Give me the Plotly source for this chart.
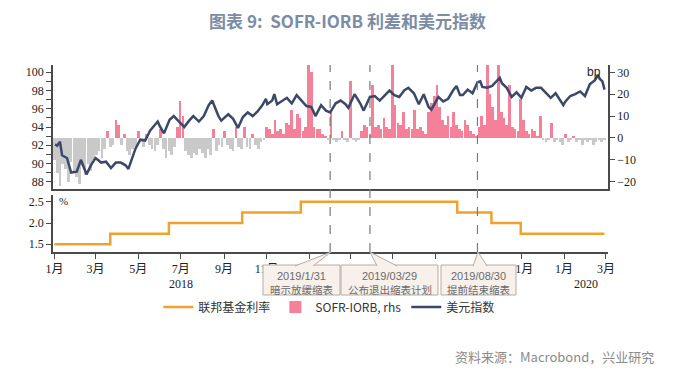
import plotly.graph_objects as go
import pandas as pd

# ---------------- data ----------------
# SOFR - IORB spread (bp), one reading every 4 days starting 2018-01-01
spread_start = "2018-01-01"
spread_bp = [
    # 2018 Jan..Dec
    -10, -16, -22, -12, -14, -20, -11, -15,
    -18, -21, -13, -17, -12, -15, -10,
    -8, -6, -9, -5, 3, -4, -3, 8,
    6, -3, 2, -6, -8, -5, -4,
    3, -2, -4, 2, -3, -5, -6, -3,
    4, -5, -9, -6, -8, -4, 5,
    17, 10, -6, -8, -9, -7, -8, -5,
    -7, -9, -5, -8, 4, -6, -3, -4,
    3, -3, -5, -6, 5, -4, -5, 5,
    -4, -5, 2, -3, -5, -2, -1,
    5, 4, 2, 8, 3, 4, 2, 7,
    6, 13, 4, 11, 9, 3, 5, 60,
    # 2019 Jan..Dec
    30, 5, 4, 4, 2, 1, -1,
    13, -1, -2, -1, 3, -1, -2,
    26, -1, -2, -1, 3, 6, 5, 2,
    24, 5, 6, 4, 9, 5, 4, 40,
    15, 7, 6, 12, 4, 5, 4,
    13, 4, 5, 3, 2, 12, 16, 19,
    24, 14, 8, 6, 10, 5, 12, 6,
    4, 3, 8, 6, 3, 2, 1,
    5, 10, 6, 150, 20, 14, 8, 60,
    12, 9, 6, 24, 5, 4, 3, 18,
    8, 3, 2, 4, 3, 1, 10,
    -1, -2, -1, 7, -2, -1, -2, -3,
    # 2020 Jan..Feb
    2, -2, -1, 1, -2, -1, -3, -1,
    -2, -1, -3, -2, -1, -2, -1,
]

dxy_dates = [
    "2018-01-02", "2018-01-05", "2018-01-09", "2018-01-12", "2018-01-19", "2018-01-25",
    "2018-02-02", "2018-02-08", "2018-02-16", "2018-02-23", "2018-03-01", "2018-03-09",
    "2018-03-16", "2018-03-23", "2018-03-30", "2018-04-06", "2018-04-13", "2018-04-17",
    "2018-04-27", "2018-05-04", "2018-05-11", "2018-05-18", "2018-05-29", "2018-06-01",
    "2018-06-07", "2018-06-15", "2018-06-21", "2018-06-29", "2018-07-06", "2018-07-13",
    "2018-07-19", "2018-07-27", "2018-08-03", "2018-08-10", "2018-08-15", "2018-08-24",
    "2018-08-28", "2018-09-07", "2018-09-14", "2018-09-21", "2018-09-28", "2018-10-05",
    "2018-10-12", "2018-10-19", "2018-10-26", "2018-10-31", "2018-11-02", "2018-11-09",
    "2018-11-12", "2018-11-16", "2018-11-23", "2018-11-30", "2018-12-07", "2018-12-14",
    "2018-12-21", "2018-12-28",
    "2019-01-04", "2019-01-10", "2019-01-18", "2019-01-25", "2019-01-31", "2019-02-08",
    "2019-02-15", "2019-02-22", "2019-02-26", "2019-03-07", "2019-03-15", "2019-03-20",
    "2019-03-29", "2019-04-05", "2019-04-12", "2019-04-19", "2019-04-26", "2019-05-03",
    "2019-05-10", "2019-05-17", "2019-05-23", "2019-05-31", "2019-06-07", "2019-06-14",
    "2019-06-21", "2019-06-25", "2019-07-05", "2019-07-12", "2019-07-19", "2019-07-26",
    "2019-07-31", "2019-08-05", "2019-08-09", "2019-08-16", "2019-08-23", "2019-08-30",
    "2019-09-03", "2019-09-06", "2019-09-13", "2019-09-20", "2019-09-27", "2019-10-01",
    "2019-10-04", "2019-10-11", "2019-10-18", "2019-10-25", "2019-11-01", "2019-11-08",
    "2019-11-15", "2019-11-22", "2019-11-29", "2019-12-06", "2019-12-13", "2019-12-20",
    "2019-12-27", "2019-12-31",
    "2020-01-03", "2020-01-10", "2020-01-17", "2020-01-24", "2020-01-31", "2020-02-07",
    "2020-02-14", "2020-02-19", "2020-02-21", "2020-02-25", "2020-02-28",
]
dxy_values = [
    92.1, 91.95, 92.4, 90.9, 90.6, 89.0,
    89.1, 90.4, 88.8, 89.9, 90.6, 90.1,
    90.2, 89.5, 90.1, 90.1, 89.8, 89.4,
    91.6, 92.6, 92.5, 93.6, 94.6, 94.1,
    93.3, 94.8, 95.2, 94.6, 94.0, 94.7,
    95.2, 94.6, 95.2, 96.4, 96.9, 95.2,
    94.7, 95.4, 94.9, 93.9, 95.1, 95.6,
    95.2, 95.7, 96.4, 97.1, 96.5, 96.9,
    97.6, 96.5, 96.9, 97.2, 96.6, 97.5,
    96.9, 96.3,
    96.2, 95.2, 96.4, 95.8, 95.6, 96.6,
    96.9, 96.5, 96.1, 97.6, 96.6, 95.8,
    97.3, 97.4, 96.9, 97.4, 98.0, 97.5,
    97.3, 98.0, 98.3, 97.7, 96.5, 97.6,
    96.2, 95.9, 97.3, 96.8, 97.1, 98.0,
    98.5, 97.5, 97.5, 98.1, 97.7, 98.9,
    99.0, 98.4, 98.3, 98.5, 99.1, 99.4,
    98.8, 98.3, 97.3, 97.8, 97.2, 98.4,
    98.0, 98.3, 98.3, 97.7, 97.2, 97.7,
    96.9, 96.4,
    96.8, 97.4, 97.6, 97.9, 97.4, 98.7,
    99.1, 99.7, 99.3, 99.0, 98.1,
]

fed_dates = ["2018-01-01", "2018-03-22", "2018-06-14", "2018-09-27", "2018-12-20",
             "2019-08-01", "2019-09-19", "2019-10-31", "2020-02-28"]
fed_rate = [1.50, 1.75, 2.00, 2.25, 2.50, 2.25, 2.00, 1.75, 1.75]

event_dates = ["2019-01-31", "2019-03-29", "2019-08-30"]
event_date_text = ["2019/1/31", "2019/03/29", "2019/08/30"]
event_text = ["暗示放缓缩表", "公布退出缩表计划", "提前结束缩表"]

# bi-monthly ticks; the 2019 Jan..Sep labels sit behind the callout boxes in the original
all_ticks = pd.date_range("2018-01-01", "2020-03-01", freq="2MS")
hidden = {"2019-01-01", "2019-03-01", "2019-05-01", "2019-07-01", "2019-09-01"}
label_ticks = [d for d in all_ticks if d.strftime("%Y-%m-%d") not in hidden]
label_text = [f"{d.month}月" for d in label_ticks]
bare_ticks = [d for d in all_ticks if d.strftime("%Y-%m-%d") in hidden]

# ---------------- figure ----------------
spread_dates = pd.date_range(spread_start, periods=len(spread_bp), freq="4D")
pos = [v if v > 0 else None for v in spread_bp]
neg = [v if v < 0 else None for v in spread_bp]

PINK = "#f4809a"
GRAY = "#c9c9c9"
NAVY = "#3b4868"
ORANGE = "#f0a22e"
AX = "#4a4a4a"
SERIF = "Liberation Serif, Noto Sans CJK SC, serif"
CJK = "Noto Sans CJK SC, sans-serif"

# page pixel geometry (the page body has an 8px margin)
OFF = 8
PW, PH = 687, 370
W, H = PW - OFF, PH - OFF
L, R, T, B = 53, 608, 65, 252


def pxx(x):
    return (x - L) / (R - L)


def pxy(y):
    return (B - y) / (B - T)


bw = 3.8 * 86400000

fig = go.Figure()
fig.add_trace(go.Scatter(x=fed_dates, y=fed_rate, mode="lines", line=dict(color=ORANGE, width=2.5, shape="hv"),
                         name="联邦基金利率", xaxis="x2", yaxis="y3"))
fig.add_trace(go.Bar(x=spread_dates, y=pos, width=bw, marker=dict(color=PINK, line=dict(width=0)),
                     name="SOFR-IORB, rhs", xaxis="x", yaxis="y"))
fig.add_trace(go.Bar(x=spread_dates, y=neg, width=bw, marker=dict(color=GRAY, line=dict(width=0)),
                     name="neg", showlegend=False, xaxis="x", yaxis="y"))
fig.add_trace(go.Scatter(x=dxy_dates, y=dxy_values, mode="lines", line=dict(color=NAVY, width=2.5),
                         name="美元指数", xaxis="x", yaxis="y2"))

xrange = ["2017-12-30", "2020-03-04"]
tickfont = dict(family=SERIF, size=12, color="#222")

fig.update_layout(
    width=W, height=H,
    margin=dict(l=L - OFF, r=PW - R, t=T - OFF, b=PH - B, autoexpand=False),
    paper_bgcolor="white", plot_bgcolor="white",
    barmode="overlay", bargap=0,
    showlegend=True,
    legend=dict(orientation="h", x=0.497, xanchor="center", y=pxy(307), yanchor="middle",
                font=dict(family=CJK, size=12, color="#333"), itemwidth=30,
                traceorder="normal", bgcolor="rgba(0,0,0,0)"),
    title=dict(text="<b>图表 9:  SOFR-IORB 利差和美元指数</b>", x=0.5, xref="container", xanchor="center",
               y=1 - (22 - OFF) / H, yref="container", yanchor="middle",
               font=dict(family=CJK, size=17, color="#7d8ca5")),
    xaxis=dict(domain=[0, 1], anchor="y", range=xrange, type="date", showticklabels=False,
               showline=True, linecolor=AX, linewidth=1.5, ticks="", showgrid=False, zeroline=False),
    yaxis=dict(domain=[pxy(189), 1], anchor="x", side="right", range=[-23.34, 33.34],
               tickvals=[-20, -10, 0, 10, 20, 30], ticks="outside", ticklen=5, tickcolor=AX,
               showline=True, linecolor=AX, linewidth=1.5, showgrid=False, zeroline=False,
               tickfont=tickfont),
    yaxis2=dict(overlaying="y", side="left", anchor="x", range=[87.2, 100.8], dtick=2,
                ticks="outside", ticklen=5, tickcolor=AX,
                minor=dict(dtick=1, ticks="outside", ticklen=5, tickcolor=AX),
                showline=True, linecolor=AX, linewidth=1.5, showgrid=False, zeroline=False,
                tickfont=tickfont),
    xaxis2=dict(domain=[0, 1], anchor="y3", matches="x", type="date", range=xrange,
                tickmode="array", tickvals=label_ticks, ticktext=label_text,
                ticks="outside", ticklen=5, tickcolor=AX,
                minor=dict(tickmode="array", tickvals=bare_ticks, ticks="outside", ticklen=5, tickcolor=AX),
                showline=True, linecolor=AX, linewidth=1.5, showgrid=False, zeroline=False,
                tickfont=tickfont),
    yaxis3=dict(domain=[0, pxy(195)], anchor="x2", range=[1.318, 2.66],
                tickvals=[1.5, 2.0, 2.5], ticktext=["1.5", "2.0", "2.5"],
                ticks="outside", ticklen=5, tickcolor=AX,
                showline=True, linecolor=AX, linewidth=1.5, showgrid=False, zeroline=False,
                tickfont=tickfont),
)

shapes = []
annotations = []
for d in event_dates:
    shapes.append(dict(type="line", xref="x", yref="paper", x0=d, x1=d, y0=0, y1=1,
                       line=dict(color="#7a7a7a", width=1.2, dash="dash"), layer="above"))

# callout boxes (layout positions in page pixels)
boxes = [(263, 340, 295, 313, 331), (341, 438, 377, 397, 370), (441, 516, 473, 487, 478)]
BOX_TOP, BOX_BOT = 265, 295
FILL = "#f8f0ea"
EDGE = "#b5aca4"
for (x0, x1, b0, b1, apex), dtxt, etxt in zip(boxes, event_date_text, event_text):
    shapes.append(dict(type="rect", xref="paper", yref="paper", x0=pxx(x0), x1=pxx(x1),
                       y0=pxy(BOX_BOT), y1=pxy(BOX_TOP), fillcolor=FILL,
                       line=dict(color=EDGE, width=1), layer="above"))
    path = (f"M {pxx(b0)},{pxy(BOX_TOP + 1)} L {pxx(apex)},{pxy(252)} "
            f"L {pxx(b1)},{pxy(BOX_TOP + 1)}")
    shapes.append(dict(type="path", xref="paper", yref="paper", path=path, fillcolor=FILL,
                       line=dict(color=EDGE, width=1), layer="above"))
    cx = pxx((x0 + x1) / 2)
    annotations.append(dict(xref="paper", yref="paper", x=cx, y=pxy(275.5), text=dtxt,
                            showarrow=False, xanchor="center", yanchor="middle",
                            font=dict(family="Liberation Sans, sans-serif", size=11, color="#6a6a6a")))
    annotations.append(dict(xref="paper", yref="paper", x=cx, y=pxy(289), text=etxt,
                            showarrow=False, xanchor="center", yanchor="middle",
                            font=dict(family=CJK, size=10.5, color="#6a6a6a")))

annotations += [
    dict(xref="x2", yref="paper", x="2018-07-02", y=pxy(284), text="2018", showarrow=False,
         font=dict(family=SERIF, size=12, color="#222"), yanchor="middle"),
    dict(xref="x2", yref="paper", x="2020-02-01", y=pxy(284), text="2020", showarrow=False,
         font=dict(family=SERIF, size=12, color="#222"), yanchor="middle"),
    dict(xref="paper", yref="paper", x=pxx(57), y=pxy(201), text="%", showarrow=False,
         xanchor="left", yanchor="middle", font=dict(family=SERIF, size=11, color="#222")),
    dict(xref="paper", yref="paper", x=pxx(603), y=pxy(72), text="bp", showarrow=False,
         xanchor="right", yanchor="middle", font=dict(family="Liberation Sans, sans-serif", size=12, color="#222")),
    dict(xref="paper", yref="paper", x=pxx(656), y=pxy(356), text="资料来源：Macrobond，兴业研究",
         showarrow=False, xanchor="right", yanchor="middle",
         font=dict(family=CJK, size=13, color="#8a8a8a")),
]

fig.update_layout(shapes=shapes, annotations=annotations)
fig.write_html("out.html")
